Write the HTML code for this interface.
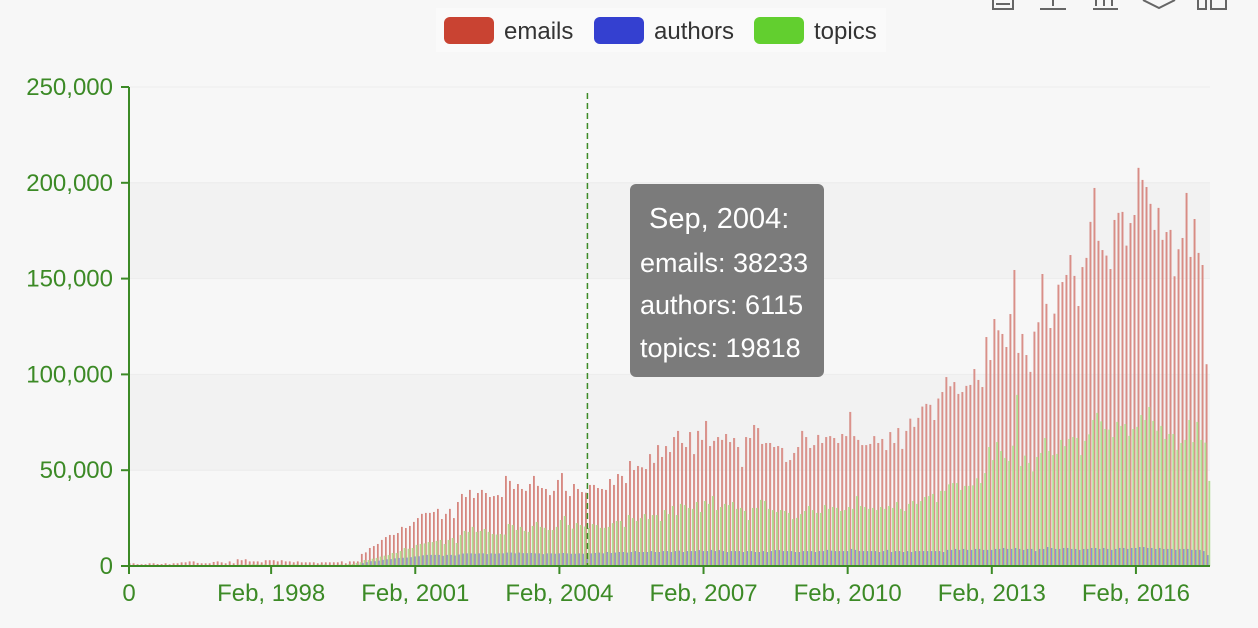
<!DOCTYPE html>
<html><head><meta charset="utf-8"><style>
html,body{margin:0;padding:0;background:#f7f7f7;}
svg{display:block;font-family:"Liberation Sans",Arial,sans-serif;}
</style></head><body>
<svg id="chart" width="1258" height="628" viewBox="0 0 1258 628" xmlns="http://www.w3.org/2000/svg">
<rect x="0" y="0" width="1258" height="628" fill="#f7f7f7"/>
<g id="toolbox" fill="none" stroke="#666" stroke-width="2">
 <path d="M993 0 V9 H1013 V0 M996 4 H1010"/>
 <path d="M1040 9 H1066 M1053 0 V6"/>
 <path d="M1093 9 H1118 M1096 0 V6 M1104 0 V6 M1112 0 V6"/>
 <path d="M1143 0 L1159 8 L1175 0"/>
 <path d="M1198 0 V9 H1206 V0 M1211 0 V9 H1226 V0"/>
</g>
<g id="legend">
 <rect x="436" y="8" width="450" height="44" fill="#fafafa"/>
 <g><rect x="444" y="17" width="50" height="27" rx="6" fill="#c94332"/><text x="504" y="39" font-size="24" fill="#333">emails</text></g>
 <g><rect x="594" y="17" width="50" height="27" rx="6" fill="#3440d0"/><text x="654" y="39" font-size="24" fill="#333">authors</text></g>
 <g><rect x="754" y="17" width="50" height="27" rx="6" fill="#62cf2f"/><text x="814" y="39" font-size="24" fill="#333">topics</text></g>
</g>
<g id="grid"></g>
<g id="bars"></g>
<g id="axes"></g>
<g id="tip"></g>
</svg>
<script>
// ---- data (values in thousands) ----
const startYear = 1995, startMonth = 2; // March 1995 (0-based month)
const yTicks = [0, 50, 100, 150, 200, 250];
const yTickLabels = ["0", "50,000", "100,000", "150,000", "200,000", "250,000"];
const xTickIdx = [35, 71, 107, 143, 179, 215, 251];
const xTickLabels = ["Feb, 1998", "Feb, 2001", "Feb, 2004", "Feb, 2007", "Feb, 2010", "Feb, 2013", "Feb, 2016"];
const emails = [
1.4,1.4,0.9,0.9,0.9,1.4,1.4,1.0,1.0,1.4, 0.9,1.4,1.4,1.9,1.9,2.4,2.4,1.6,1.4,1.4,
1.4,2.1,2.4,1.9,1.4,2.4,1.4,3.5,3.0,3.5, 2.4,2.4,2.4,1.9,3.0,3.0,3.0,2.4,3.0,2.4,
2.4,1.9,2.4,1.9,1.9,1.9,1.9,1.4,1.9,1.9, 1.9,1.9,1.9,2.4,1.4,2.4,2.4,2.4,
6.3,7.1,9.4,10.4,11.5,13.6,15.1,16.2,16.2,17.2, 20.4,19.8,20.9,23,25,27.2,27.7,27.7,28.2,29.8,
24.5,27.2,29.8,25,33.4,37.6,36,39.7,35.5,38.1, 39.7,38.1,36,36.5,37,36,47,44.4,40.2,42.8,
40.2,39.2,42.8,47,41.8,40.7,40.2,37,39.2,44.9, 48.5,39.2,36.5,42.8,40.2,38.6,38.233,42.3,42.3,40.7,
40.2,39.7,45.4,42.3,48,47,43.3,54.8,50.1,52.2,
51.5,50.6,58.4,53.8,63.1,56.9,62.6,59.5,67.3,70.5, 64.2,62.1,69.9,58.4,70.5,65.8,75.7,62.6,65.3,67.3,
65.8,68.9,64.7,66.8,62.1,51.7,67.3,66.8,73.6,72, 63.7,64.2,64.2,62.1,62.6,61.6,54.3,55.3,59,62.1,
70.5,67.3,61.6,63.1,68.4,64.2,67.3,67.8,66.8,64.2, 68.9,67.8,80.4,67.8,65.8,63.1,63.1,63.7,67.8,64.2,
66.3,60.5,69.9,64.2,72,
61.1,70.5,76.9,72.6,77.3,83.2,84.6,84.1,76.2,87.4, 90.8,98.6,93.8,96,89.8,90.8,94,94.5,102.8,97.1,
93.4,119.5,107.5,128.9,123,121.1,114.3,131.5,154.5,111.2, 121.1,110.1,101.3,122.3,127.2,152.4,136.8,124.2,131.7,146.8,
148.2,151.9,162.3,151.4,135.7,156,160.8,179.6,197.3,169.7, 164.9,162,155,180.6,184.3,184.8,167.2,179,183.2,207.8,
201.5,197.8,189,175.4,186.9,170.2,174.3,175.4,151.2,165.3, 171.2,194.7,161.3,181.1,163.4,157.1,105.3];
const authors = [
0.2,0.2,0.2,0.2,0.2,0.2,0.2,0.2,0.2,0.2, 0.2,0.2,0.2,0.2,0.2,0.2,0.2,0.2,0.2,0.2,
0.2,0.2,0.2,0.2,0.2,0.2,0.2,0.4,0.4,0.4, 0.4,0.4,0.4,0.4,0.4,0.4,0.4,0.4,0.4,0.4,
0.4,0.4,0.4,0.4,0.4,0.4,0.4,0.4,0.4,0.4, 0.4,0.4,0.4,0.4,0.4,0.4,0.5,0.6,
1.5,2.0,2.5,2.5,2.8,3.2,3.5,3.6,4.0,4.2, 4.3,4.4,4.6,5.0,5.1,5.6,5.8,5.8,5.8,5.8,
5.3,5.8,5.8,5.5,6.0,6.5,6.6,6.6,6.4,6.6, 6.6,6.2,6.6,6.4,6.6,6.6,7.0,7.0,6.6,7.0,
6.7,6.7,6.8,6.6,6.6,6.2,6.6,6.6,6.4,6.6, 6.8,6.6,6.4,6.4,6.6,6.4,6.115,
6.6,6.8,7.0,6.6,7.3,6.8,7.0,7.3,7.3,7.0, 7.3,7.8,7.3,7.3,7.3,7.8,7.3,7.3,7.8,7.8,
7.3,7.8,8.0,7.3,7.8,7.8,7.8,8.3,7.8,7.8, 8.4,7.8,8.3,7.8,7.3,7.8,7.8,7.8,7.3,7.8,
7.8,7.3,7.3,7.8,7.3,7.8,8.3,8.3,7.8,7.8, 7.8,7.3,7.3,7.8,7.8,7.8,7.3,7.8,7.8,8.4,
8.0,7.8,7.8,7.8,7.8,8.9,8.4,7.8,7.8,7.8, 7.8,7.8,7.3,7.8,8.4,7.3,7.8,7.8,
7.3,7.8,7.3,7.8,7.8,7.8,7.8,7.8,7.8,7.8, 7.3,8.4,8.4,8.9,8.4,8.9,8.4,8.4,8.9,8.9,
8.4,8.4,8.4,8.9,8.9,9.4,8.9,8.9,9.4,8.9, 8.4,8.9,8.9,7.8,8.9,8.9,9.9,9.4,8.9,8.9,
9.4,9.4,8.9,8.9,8.4,8.9,8.9,9.4,9.4,8.9, 9.4,8.9,8.4,8.9,9.4,9.4,8.9,9.4,9.4,9.9,
9.9,9.4,9.4,8.9,9.4,8.9,8.9,8.9,8.4,8.9, 8.9,8.9,8.4,8.4,8.4,7.8,5.7];
const topics = [
0.3,0.3,0.3,0.3,0.3,0.3,0.3,0.3,0.3,0.3, 0.3,0.3,0.3,0.3,0.3,0.3,0.3,0.3,0.3,0.3,
0.3,0.3,0.3,0.3,0.3,0.3,0.3,0.8,0.6,0.8, 0.9,0.9,0.8,0.8,0.6,0.6,0.8,0.8,0.6,0.6,
0.8,0.8,0.6,0.6,0.6,0.6,0.6,0.8,0.8,0.6, 0.6,0.6,0.8,0.6,0.9,1.0,1.6,2.0,
3.1,3.1,3.8,4.2,4.9,5.4,5.7,6.8,6.8,7.8, 9.4,9,9.4,11,11.5,11.8,12.5,12.5,13.1,13.6,
11.5,13.6,14.6,12,16.2,18.3,17.8,20.4,17.8,18.3, 19.3,17.8,16.7,16.4,16.7,16.4,21.9,21.4,18.8,20.4,
18.3,17.8,20.9,23,20.4,19.9,18.8,18.8,20.4,24, 26.1,21.4,19.5,22.4,21.4,20.6,19.818,21.9,21.4,19.9,
19.9,20.4,22.4,23.5,23.5,20.4,26.6,25,23.5,25,
27.1,24.5,26.6,26.6,23.5,29.2,27.1,31.3,26.6,32.4, 31.8,30.3,29.8,33.4,28.2,33.9,32.4,36.5,29.2,30.8,
32.4,31.8,33.4,29.8,30.3,28.7,24,30.3,30.3,34.5, 33.9,29.8,29.2,28.2,29.2,28.7,27.7,24.5,25.1,27.1,
28.7,31.3,29.2,27.7,27.7,31.8,29.8,30.8,30.3,28.7, 29.2,30.8,29.8,36.5,31.3,30.8,29.8,30.3,29.2,30.8,
29.8,31.3,30.3,33.4,29.8,
28.7,32.4,33.9,32.4,33.9,36,36.5,37.6,33.4,39.2, 39.2,42.6,43.3,43.3,39.7,41.8,41.8,42.1,45.8,43.3,
48.5,62.1,55.3,64.7,60,56.4,54.8,62.8,89.3,52.2, 57.6,53.8,49.4,56.9,59,66.8,60,57.9,58.5,65.8,
62.6,66.3,67.3,66.8,57.9,65.3,68.7,76.2,79.9,75.5, 71.5,71.2,67.3,75.2,73.1,74.1,67.9,71.5,72.6,78.8,
76.2,83,75.7,70.6,73.1,66.3,68.9,68.9,60.6,64.2, 65.8,76.2,64.7,75.2,65.8,64.4,44.4];
const tipIndex = 114;

// ---- layout ----
const NS = "http://www.w3.org/2000/svg";
const L = 129, R = 1210, T = 87, B = 566, yMax = 250;
const axisColor = "#3c8a26";
const nCat = emails.length;
const band = (R - L) / nCat;
const xC = i => L + band * (i + 0.5);
const yS = v => B - (v / yMax) * (B - T);
function mk(tag, attrs, parent){ const e = document.createElementNS(NS, tag); for (const k in attrs) e.setAttribute(k, attrs[k]); parent.appendChild(e); return e; }
const monthNames = ["Jan","Feb","Mar","Apr","May","Jun","Jul","Aug","Sep","Oct","Nov","Dec"];
const catLabel = i => { const m = startMonth + i; return monthNames[m % 12] + ", " + (startYear + Math.floor(m / 12)); };

const grid = document.getElementById("grid");
for (let k = 0; k < yTicks.length - 1; k++) {
  const r = mk("rect", {x: L, y: yS(yTicks[k+1]), width: R - L, height: yS(yTicks[k]) - yS(yTicks[k+1]), fill: k % 2 ? "#f2f2f2" : "#f7f7f7"}, grid);
  
  
}
yTicks.forEach(t => {
  const ln = mk("line", {x1: L, x2: R, y1: yS(t), y2: yS(t), stroke: "#ececec", "stroke-width": 1}, grid);
  
  
});

const bars = document.getElementById("bars");
const series = [[emails, "#dc938c", "#cf7d76", "bar-emails"], [authors, "#8a90d4", "#7c82cc", "bar-authors"], [topics, "#b0de92", "#a2d482", "bar-topics"]];
const bw = band / 3;
series.forEach(([arr, col, edge, nm], s) => {
  arr.forEach((v, i) => {
    const x = xC(i) - 1.5 * bw + s * bw - 0.25;
    const y = yS(v);
    const r = mk("rect", {x: x.toFixed(2), y: y.toFixed(2), width: (bw + 0.5).toFixed(2), height: Math.max(0, B - y).toFixed(2), fill: col}, bars);
    
    
    if (s === 0) {
      const e = mk("rect", {x: x.toFixed(2), y: y.toFixed(2), width: 0.6, height: Math.max(0, B - y).toFixed(2), fill: edge}, bars);
      
      
    }
  });
});

const axes = document.getElementById("axes");
const ya = mk("line", {x1: L, x2: L, y1: T, y2: B, stroke: axisColor, "stroke-width": 2}, axes);


yTicks.forEach((t, k) => {
  const tk = mk("line", {x1: L - 8, x2: L, y1: yS(t), y2: yS(t), stroke: axisColor, "stroke-width": 2}, axes);
  
  
  const tx = mk("text", {x: 113, y: yS(t) + 8, "text-anchor": "end", "font-size": 24, fill: axisColor}, axes);
  tx.textContent = yTickLabels[k];
  
  
});
const xa = mk("line", {x1: L - 1, x2: R, y1: B, y2: B, stroke: axisColor, "stroke-width": 2}, axes);


const t0 = mk("line", {x1: L, x2: L, y1: B, y2: B + 8, stroke: axisColor, "stroke-width": 2}, axes);


const l0 = mk("text", {x: L, y: 601, "text-anchor": "middle", "font-size": 24, fill: axisColor}, axes);
l0.textContent = "0";


xTickIdx.forEach((ix, k) => {
  const tk = mk("line", {x1: xC(ix), x2: xC(ix), y1: B, y2: B + 8, stroke: axisColor, "stroke-width": 2}, axes);
  
  
  const tx = mk("text", {x: xC(ix), y: 601, "text-anchor": "middle", "font-size": 24, fill: axisColor}, axes);
  tx.textContent = xTickLabels[k];
  
  
});

// tooltip + axis pointer
const tip = document.getElementById("tip");
const px = xC(tipIndex);
const ap = mk("line", {x1: px, x2: px, y1: 93, y2: B, stroke: axisColor, "stroke-width": 1.5, "stroke-dasharray": "6,4"}, tip);


const tb = mk("rect", {x: 630, y: 184, width: 194, height: 193, rx: 6, fill: "#7b7b7b"}, tip);


const lines = [[649, 228, 29, catLabel(tipIndex) + ":"], [640, 272, 27, "emails: " + Math.round(emails[tipIndex] * 1000)], [640, 314, 27, "authors: " + Math.round(authors[tipIndex] * 1000)], [640, 357, 27, "topics: " + Math.round(topics[tipIndex] * 1000)]];
lines.forEach(([x, y, fs, s]) => {
  const tx = mk("text", {x: x, y: y, "font-size": fs, fill: "#ffffff"}, tip);
  tx.textContent = s;
  
  
});
</script>
</body></html>
